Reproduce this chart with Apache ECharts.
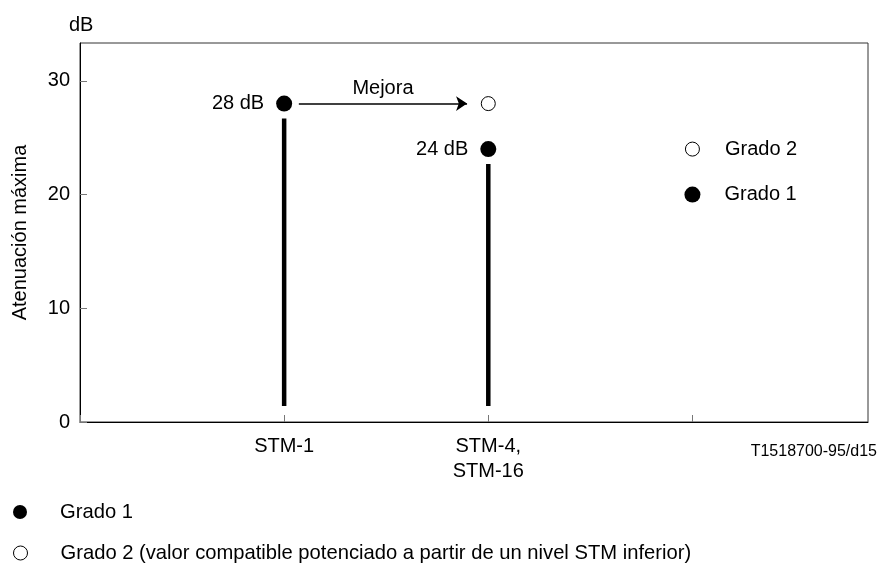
<!DOCTYPE html>
<html>
<head>
<meta charset="utf-8">
<script src="https://cdn.jsdelivr.net/npm/echarts@6/dist/echarts.min.js"></script>
<style>
html,body{margin:0;padding:0;background:#fff;}
#chart{width:885px;height:566px;}
</style>
</head>
<body>
<div id="chart"></div>
<script>
// ---- data ----
var xTickLabels = ['', 'STM-1', 'STM-4,\nSTM-16', ''];
var yTicks = [0, 10, 20, 30];
var stemSTM1 = [[1, 1.4], [1, 26.7]];
var stemSTM4 = [[2, 1.4], [2, 22.7]];
var grado1Points = [[1, 28], [2, 24]];
var grado1Labels = ['28 dB', '24 dB'];
var grado2Points = [[2, 28]];
var arrowCoords = [[1.072, 28], [1.896, 28]];
var arrowLabel = 'Mejora';
var innerLegendOpen = [[3, 24]];
var innerLegendFilled = [[3, 20]];
var innerLegendNames = ['Grado 2', 'Grado 1'];
var bottomLegendNames = ['Grado 1', 'Grado 2 (valor compatible potenciado a partir de un nivel STM inferior)'];
var yAxisName = 'Atenuación máxima';
var unitLabel = 'dB';
var figureCode = 'T1518700-95/d15';

var FONT = 'Liberation Sans, Arial, sans-serif';
var chart = echarts.init(document.getElementById('chart'));

function bottomLegend(name, top) {
  return {
    orient: 'vertical',
    left: 13,
    top: top,
    padding: 0,
    itemWidth: 14,
    itemHeight: 14,
    icon: 'circle',
    data: [name],
    selectedMode: false,
    itemStyle: {borderWidth: 1},
    textStyle: {fontFamily: FONT, fontSize: 20.2, color: '#000', lineHeight: 20, padding: [0, 0, 0, 28]}
  };
}

var option = {
  animation: false,
  backgroundColor: '#fff',
  textStyle: {fontFamily: FONT, color: '#000'},
  title: [
    {text: unitLabel, left: 64, top: 10,
     textStyle: {fontFamily: FONT, fontSize: 20, fontWeight: 'normal', color: '#000'}},
    {text: figureCode, right: 3, top: 439,
     textStyle: {fontFamily: FONT, fontSize: 16, fontWeight: 'normal', color: '#000'}}
  ],
  legend: [
    bottomLegend(bottomLegendNames[0], 502),
    bottomLegend(bottomLegendNames[1], 543)
  ],
  grid: {
    left: 80, top: 43, right: 17, bottom: 144,
    show: true, borderColor: '#333', borderWidth: 1
  },
  xAxis: {
    type: 'value',
    min: 0, max: 3.86, interval: 1,
    axisLine: {show: true, onZero: false, lineStyle: {color: '#000', width: 1}},
    axisTick: {show: true, inside: true, length: 7, lineStyle: {color: '#777'}},
    splitLine: {show: false},
    axisLabel: {
      margin: 12,
      fontFamily: FONT, fontSize: 20, color: '#000', lineHeight: 25,
      showMaxLabel: false, showMinLabel: true,
      formatter: function (v) {
        var i = Math.round(v);
        return (Math.abs(v - i) < 1e-6 && xTickLabels[i] !== undefined) ? xTickLabels[i] : '';
      }
    }
  },
  yAxis: {
    type: 'value',
    min: 0, max: 33.33, interval: 10,
    name: yAxisName,
    nameLocation: 'middle',
    nameRotate: 90,
    nameGap: 50,
    nameTextStyle: {fontFamily: FONT, fontSize: 20, color: '#000'},
    axisLine: {show: true, lineStyle: {color: '#000', width: 1}},
    axisTick: {show: true, inside: true, length: 7, lineStyle: {color: '#777'}},
    splitLine: {show: false},
    axisLabel: {
      margin: 10,
      fontFamily: FONT, fontSize: 20, color: '#000',
      showMaxLabel: false,
      formatter: function (v) {
        return yTicks.indexOf(Math.round(v)) >= 0 && Math.abs(v - Math.round(v)) < 1e-6 ? String(v) : '';
      }
    }
  },
  series: [
    {type: 'line', data: stemSTM1, symbol: 'none', silent: true,
     lineStyle: {color: '#000', width: 4.5}, z: 2},
    {type: 'line', data: stemSTM4, symbol: 'none', silent: true,
     lineStyle: {color: '#000', width: 4.5}, z: 2},
    {type: 'lines', coordinateSystem: 'cartesian2d', silent: true,
     symbol: ['none', 'arrow'], symbolSize: [8, 11],
     lineStyle: {color: '#000', width: 1.5, opacity: 1, curveness: 0},
     label: {show: true, position: 'middle', formatter: arrowLabel, distance: 5,
             fontFamily: FONT, fontSize: 20, color: '#000'},
     data: [{coords: arrowCoords}], z: 3},
    {name: bottomLegendNames[0], type: 'scatter', data: grado1Points,
     symbol: 'circle', symbolSize: 16,
     itemStyle: {color: '#000', opacity: 1},
     label: {show: true, position: 'left', distance: 12,
             fontFamily: FONT, fontSize: 20, color: '#000', opacity: 1,
             formatter: function (p) { return grado1Labels[p.dataIndex]; }},
     z: 4},
    {name: bottomLegendNames[1], type: 'scatter', data: grado2Points,
     symbol: 'circle', symbolSize: 14,
     itemStyle: {color: '#fff', borderColor: '#000', borderWidth: 1, opacity: 1},
     z: 4},
    {type: 'scatter', data: innerLegendOpen, symbol: 'circle', symbolSize: 14,
     itemStyle: {color: '#fff', borderColor: '#000', borderWidth: 1, opacity: 1},
     label: {show: true, position: 'right', distance: 25, formatter: innerLegendNames[0],
             fontFamily: FONT, fontSize: 20, color: '#000', opacity: 1}, z: 4},
    {type: 'scatter', data: innerLegendFilled, symbol: 'circle', symbolSize: 16,
     itemStyle: {color: '#000', opacity: 1},
     label: {show: true, position: 'right', distance: 24, formatter: innerLegendNames[1],
             fontFamily: FONT, fontSize: 20, color: '#000', opacity: 1}, z: 4}
  ]
};
chart.setOption(option);
</script>
</body>
</html>
